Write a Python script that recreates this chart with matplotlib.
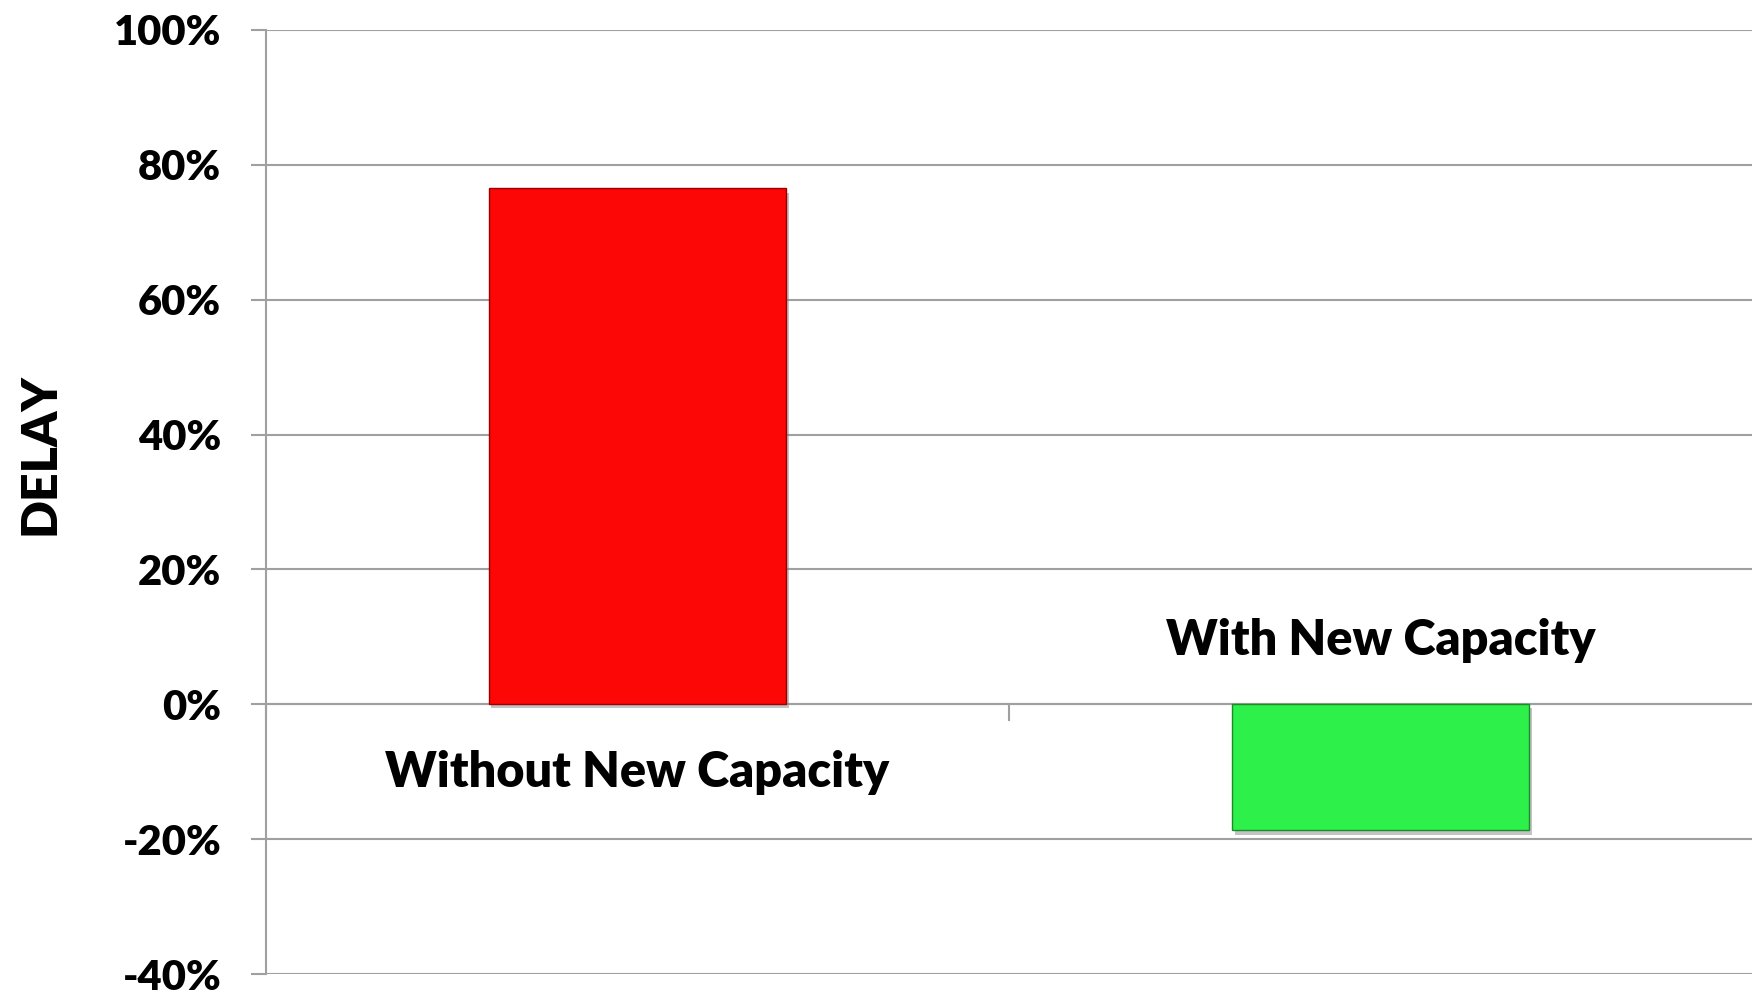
import matplotlib
matplotlib.use("Agg")
import matplotlib.pyplot as plt
import matplotlib.patheffects as pe
from matplotlib.ticker import FuncFormatter, FixedLocator

categories = ["Without New Capacity", "With New Capacity"]
delay = [0.765, -0.187]
bar_colors = ["#FC0606", "#2EF04A"]
edge_colors = ["#9A0000", "#1A8A2A"]
yticks = [-0.4, -0.2, 0.0, 0.2, 0.4, 0.6, 0.8, 1.0]

plt.rcParams['font.family'] = ['Lato', 'DejaVu Sans']
W = 'heavy'

fig = plt.figure(figsize=(17.52, 9.9), dpi=100)
ax = fig.add_axes([265.7/1752, 1 - 974/990, (1752 - 265.7)/1752, 944/990])

x = list(range(len(categories)))
bars = ax.bar(x, delay, width=0.40, color=bar_colors, edgecolor=edge_colors,
              linewidth=1.0, zorder=3)
for b in bars:
    b.set_path_effects([pe.SimplePatchShadow(offset=(2, -3), shadow_rgbFace='#888888', alpha=0.5),
                        pe.Normal()])

ax.set_xlim(-0.5, 1.5)
ax.set_ylim(-0.4, 1.0)
ax.yaxis.set_major_locator(FixedLocator(yticks))
ax.yaxis.set_major_formatter(FuncFormatter(lambda v, p: f"{v*100:.0f}%"))
ax.grid(axis='y', color='#A0A0A0', linewidth=1.5, zorder=0)
ax.set_axisbelow(True)

for s in ['top', 'right', 'bottom']:
    ax.spines[s].set_visible(False)
ax.spines['left'].set_color('#A0A0A0')
ax.spines['left'].set_linewidth(1.5)

ax.tick_params(axis='y', length=11, width=1.5, color='#A0A0A0', pad=21,
               labelsize=30)
for lab in ax.get_yticklabels():
    lab.set_fontweight(W)

# x axis at zero with category separator ticks
ax.set_xticks([])
ax.axhline(0, color='#A0A0A0', linewidth=1.5, zorder=2)
for xs in [-0.5, 0.5]:
    ax.plot([xs, xs], [0, -0.024], color='#A0A0A0', linewidth=1.5, zorder=2,
            clip_on=False)

# category labels next to the axis on the opposite side of the bar
for xi, v, name in zip(x, delay, categories):
    off = -49 if v >= 0 else 46
    ax.annotate(name, xy=(xi, 0), xytext=(0, off), textcoords='offset points',
                ha='center', va='center', fontsize=35, fontweight=W,
                color='black', zorder=4)

fig.text(40/1752, 1 - 454/990, "DELAY", rotation=90, ha='center', va='center',
         fontsize=36, fontweight=W)

fig.savefig("out.png", dpi=100, facecolor='white')
